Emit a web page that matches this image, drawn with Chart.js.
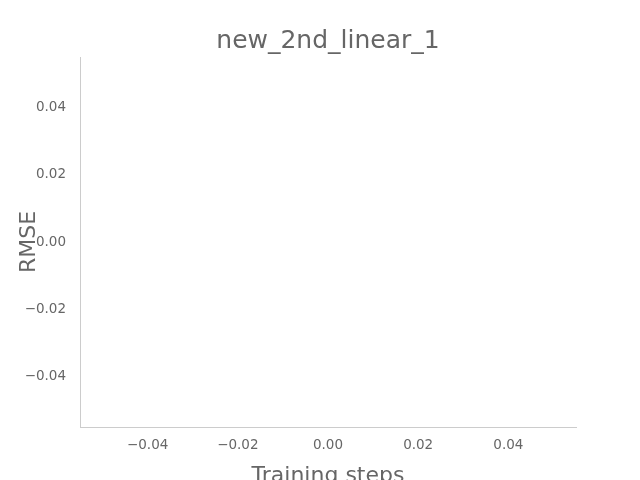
<!DOCTYPE html>
<html>
<head>
<script src="https://cdn.jsdelivr.net/npm/chart.js@4/dist/chart.umd.min.js"></script>
<style>
  html, body { margin: 0; padding: 0; background: #fff; }
  #wrap { width: 640px; height: 480px; }
</style>
</head>
<body>
<div id="wrap"><canvas id="canvas"></canvas></div>
<script>
const TITLE = "new_2nd_linear_1";
const X_LABEL = "Training steps";
const Y_LABEL = "RMSE";
const xTicks = [-0.04, -0.02, 0.0, 0.02, 0.04];
const yTicks = [-0.04, -0.02, 0.0, 0.02, 0.04];
const xRange = [-0.055, 0.055];
const yRange = [-0.055, 0.055];
const rmsePoints = []; // the reference plot has no data

const TEXT = "#666666";
const AXIS = "#cccccc";
const FONT = "DejaVu Sans";

const fmt = (v) => {
  const s = Math.abs(v).toFixed(2);
  return v < -1e-9 ? "\u2212" + s : s;
};

new Chart(document.getElementById("canvas"), {
  type: "scatter",
  data: { datasets: [{ label: Y_LABEL, data: rmsePoints }] },
  options: {
    responsive: true,
    maintainAspectRatio: false,
    animation: false,
    layout: { padding: { left: 16, right: 0, top: 0, bottom: 0 } },
    plugins: {
      legend: { display: false },
      tooltip: { enabled: false },
      title: {
        display: true,
        text: TITLE,
        color: TEXT,
        font: { family: FONT, size: 25, weight: "normal" },
        padding: { top: 26, bottom: 1 },
      },
    },
    scales: {
      x: {
        type: "linear",
        min: xRange[0],
        max: xRange[1],
        afterBuildTicks: (s) => { s.ticks = xTicks.map((v) => ({ value: v })); },
        afterFit: (s) => { s.height = 53; },
        border: { color: AXIS, width: 1 },
        grid: { drawOnChartArea: false, color: "rgba(0,0,0,0)", tickLength: 4 },
        ticks: {
          color: TEXT, padding: 6,
          font: { family: FONT, size: 13.5 },
          callback: (v) => fmt(v),
        },
        title: {
          display: true, text: X_LABEL, color: TEXT,
          font: { family: FONT, size: 22 },
          padding: { top: 0, bottom: -9 },
        },
      },
      y: {
        type: "linear",
        min: yRange[0],
        max: yRange[1],
        afterBuildTicks: (s) => { s.ticks = yTicks.map((v) => ({ value: v })); },
        afterFit: (s) => { s.width = 64; },
        border: { color: AXIS, width: 1 },
        grid: { drawOnChartArea: false, color: "rgba(0,0,0,0)", tickLength: 4 },
        ticks: {
          color: TEXT, padding: 10,
          font: { family: FONT, size: 13.5 },
          callback: (v) => fmt(v),
        },
        title: {
          display: true, text: Y_LABEL, color: TEXT,
          font: { family: FONT, size: 22 },
          padding: { top: 0, bottom: -24 },
        },
      },
      y2: {
        type: "linear",
        position: "right",
        min: yRange[0],
        max: yRange[1],
        afterFit: (s) => { s.width = 64; },
        border: { display: false },
        grid: { display: false },
        ticks: { display: false },
      },
    },
  },
});
</script>
</body>
</html>
